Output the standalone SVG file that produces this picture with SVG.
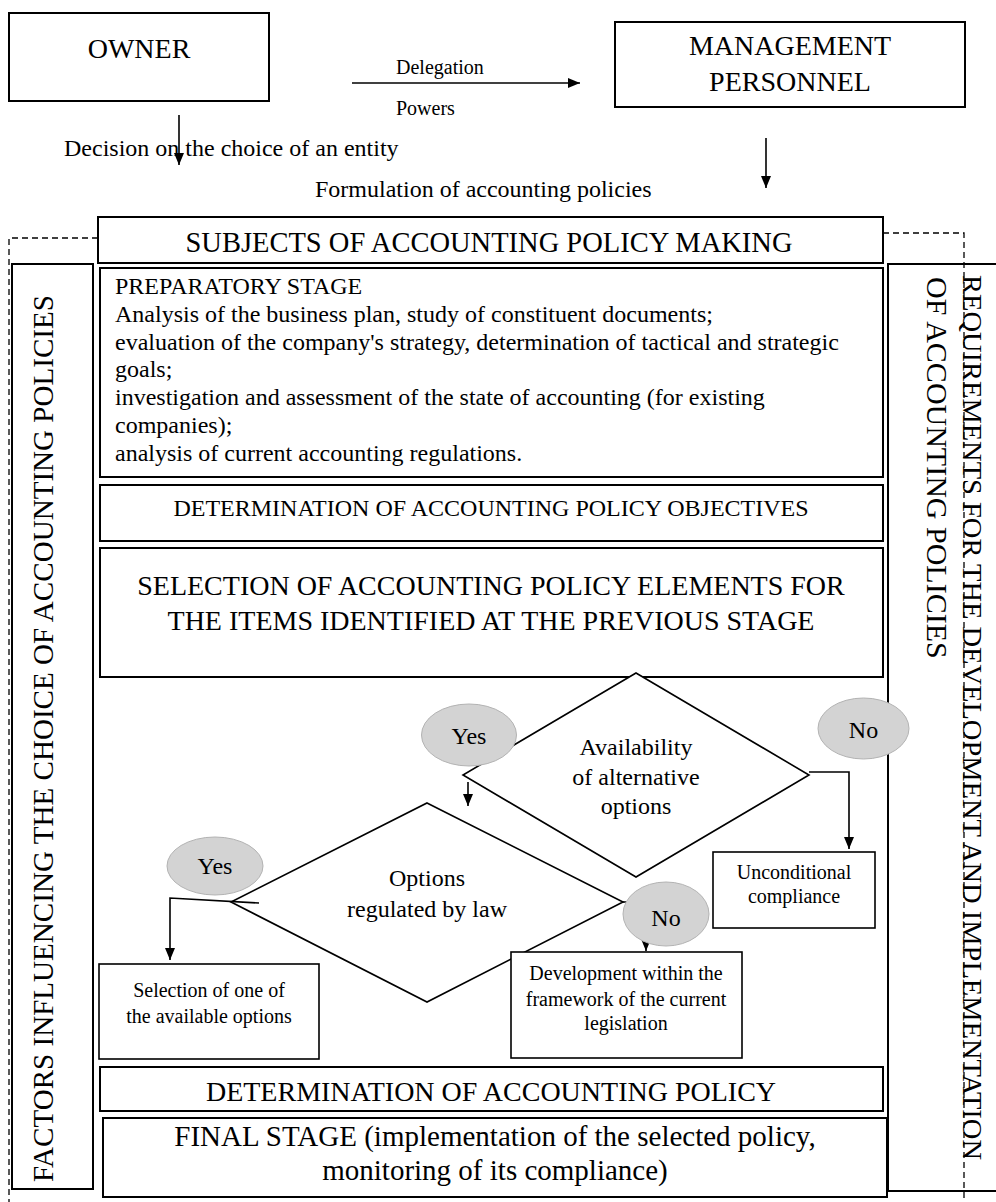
<svg xmlns="http://www.w3.org/2000/svg" width="996" height="1202" viewBox="0 0 996 1202">
<defs>
<marker id="ah" markerUnits="userSpaceOnUse" markerWidth="12" markerHeight="10" refX="12" refY="5" orient="auto"><path d="M0,0 L12,5 L0,10 z" fill="#000"/></marker>
<style>
.box{fill:#fff;stroke:#000;stroke-width:2}
.thin{fill:#fff;stroke:#000;stroke-width:1.6}
.t{font-family:"Liberation Serif","Times New Roman",serif;fill:#000}
.c{text-anchor:middle}
.dash{fill:none;stroke:#000;stroke-width:1.3;stroke-dasharray:6 4}
.conn{fill:none;stroke:#000;stroke-width:1.6;marker-end:url(#ah)}
.oval{fill:#d3d3d3;stroke:#b3b3b3;stroke-width:1}
</style>
</defs>
<rect width="996" height="1202" fill="#fff"/>

<g id="owner">
<rect class="box" x="9" y="13" width="260" height="88"/>
<text class="t c" x="139" y="58" font-size="28">OWNER</text>
</g>
<g id="management">
<rect class="box" x="615" y="22" width="350" height="85"/>
<text class="t c" x="790" y="55" font-size="28">MANAGEMENT</text>
<text class="t c" x="790" y="91" font-size="28">PERSONNEL</text>
</g>
<g id="labels">
<text class="t" x="396" y="74" font-size="20">Delegation</text>
<text class="t" x="396" y="115" font-size="20">Powers</text>
<text class="t" x="64" y="156" font-size="24">Decision on the choice of an entity</text>
<text class="t" x="315" y="197" font-size="24">Formulation of accounting policies</text>
</g>

<g id="subjects">
<rect class="box" x="98" y="217" width="785" height="46"/>
<text class="t c" x="489" y="252" font-size="28.5">SUBJECTS OF ACCOUNTING POLICY MAKING</text>
</g>
<g id="factors">
<rect class="box" x="12" y="264" width="81" height="925"/>
<text class="t" transform="translate(53,1182) rotate(-90)" font-size="29" textLength="887" lengthAdjust="spacingAndGlyphs">FACTORS INFLUENCING THE CHOICE OF ACCOUNTING POLICIES</text>
</g>
<g id="requirements">
<rect class="box" x="888" y="264" width="120" height="927"/>
<text class="t" transform="translate(963,275) rotate(90)" font-size="28" textLength="885" lengthAdjust="spacingAndGlyphs">REQUIREMENTS FOR THE DEVELOPMENT AND IMPLEMENTATION</text>
<text class="t" transform="translate(927,277) rotate(90)" font-size="30">OF ACCOUNTING POLICIES</text>
</g>
<g id="preparatory">
<rect class="box" x="100" y="268" width="783" height="209"/>
<text class="t" x="115" font-size="24"><tspan x="115" y="294">PREPARATORY STAGE</tspan><tspan x="115" y="322">Analysis of the business plan, study of constituent documents;</tspan><tspan x="115" y="350">evaluation of the company's strategy, determination of tactical and strategic</tspan><tspan x="115" y="377">goals;</tspan><tspan x="115" y="405">investigation and assessment of the state of accounting (for existing</tspan><tspan x="115" y="433">companies);</tspan><tspan x="115" y="461">analysis of current accounting regulations.</tspan></text>
</g>
<g id="objectives">
<rect class="box" x="100" y="485" width="783" height="56"/>
<text class="t c" x="491" y="516" font-size="24">DETERMINATION OF ACCOUNTING POLICY OBJECTIVES</text>
</g>
<g id="selection">
<rect class="box" x="100" y="548" width="783" height="129"/>
<text class="t c" x="491" y="595" font-size="28">SELECTION OF ACCOUNTING POLICY ELEMENTS FOR</text>
<text class="t c" x="491" y="630" font-size="28">THE ITEMS IDENTIFIED AT THE PREVIOUS STAGE</text>
</g>
<g id="availability">
<polygon class="thin" points="636,673 809,775 636,877 463,775"/>
<text class="t c" x="636" y="755" font-size="24">Availability</text>
<text class="t c" x="636" y="785" font-size="24">of alternative</text>
<text class="t c" x="636" y="814" font-size="24">options</text>
</g>
<g id="regulated">
<polygon class="thin" points="427,803 623,902 427,1002 231,902"/>
<text class="t c" x="427" y="886" font-size="24">Options</text>
<text class="t c" x="427" y="917" font-size="24">regulated by law</text>
</g>
<g id="unconditional">
<rect class="thin" x="713" y="852" width="162" height="76"/>
<text class="t c" x="794" y="879" font-size="20">Unconditional</text>
<text class="t c" x="794" y="903" font-size="20">compliance</text>
</g>
<g id="select-one">
<rect class="thin" x="99" y="964" width="220" height="95"/>
<text class="t c" x="209" y="997" font-size="20">Selection of one of</text>
<text class="t c" x="209" y="1023" font-size="20">the available options</text>
</g>
<g id="development">
<rect class="thin" x="511" y="952" width="231" height="106"/>
<text class="t c" x="626" y="980" font-size="20">Development within the</text>
<text class="t c" x="626" y="1006" font-size="20">framework of the current</text>
<text class="t c" x="626" y="1030" font-size="20">legislation</text>
</g>
<g id="determination">
<rect class="box" x="100" y="1067" width="783" height="44"/>
<text class="t c" x="491" y="1101" font-size="28">DETERMINATION OF ACCOUNTING POLICY</text>
</g>
<g id="final">
<rect class="box" x="103" y="1118" width="784" height="79"/>
<text class="t c" x="495" y="1146" font-size="29">FINAL STAGE (implementation of the selected policy,</text>
<text class="t c" x="495" y="1180" font-size="29">monitoring of its compliance)</text>
</g>

<g id="connectors">
<path class="conn" d="M352,83 H580"/>
<path class="conn" d="M179,115 V165"/>
<path class="conn" d="M766,138 V188"/>
<path class="conn" d="M468,782 V806"/>
<path class="conn" d="M809,772 H849 V849"/>
<path class="conn" d="M259,903 L170,898 V960"/>
<path class="conn" d="M623,902 H646 V951"/>
</g>

<g id="yes1">
<ellipse class="oval" cx="469" cy="735" rx="47.5" ry="31"/>
<text class="t c" x="469" y="744" font-size="24">Yes</text>
</g>
<g id="no1">
<ellipse class="oval" cx="863.5" cy="728.5" rx="45.5" ry="30.5"/>
<text class="t c" x="863.5" y="738" font-size="24">No</text>
</g>
<g id="yes2">
<ellipse class="oval" cx="215" cy="866" rx="48" ry="29"/>
<text class="t c" x="215" y="874" font-size="24">Yes</text>
</g>
<g id="no2">
<ellipse class="oval" cx="666" cy="914" rx="43" ry="32"/>
<text class="t c" x="666" y="926" font-size="24">No</text>
</g>

<g id="frame">
<path class="dash" d="M98,238 H9 V1202"/>
<path class="dash" d="M883,233 H964 V1202"/>
</g>
</svg>
